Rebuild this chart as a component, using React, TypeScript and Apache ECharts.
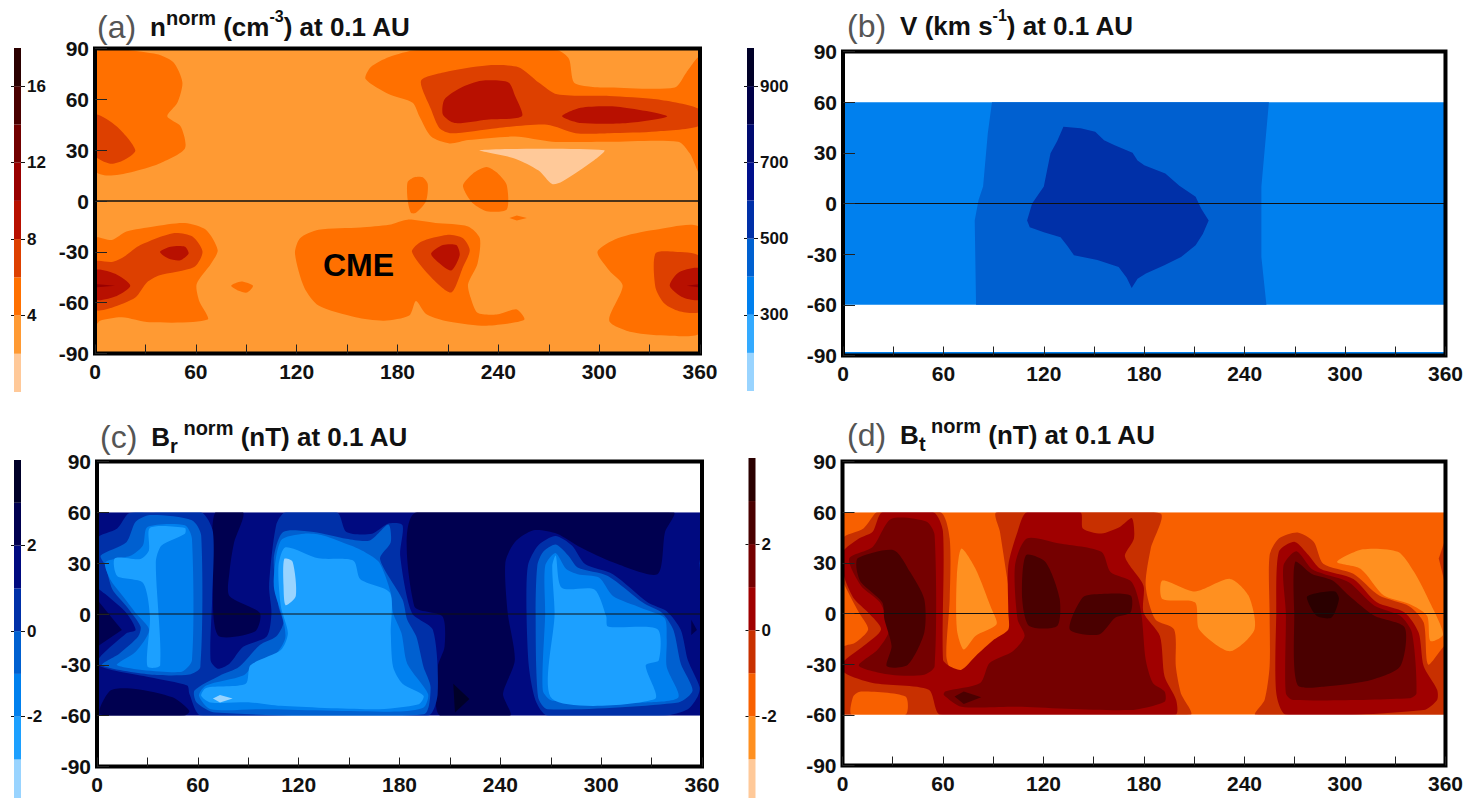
import React, { useEffect, useRef } from "react";
import * as echarts from "echarts";

type Pt = [number, number];
type Layer = [number, Pt[]];

const fontFamily = '"Liberation Sans", Arial, sans-serif';

const lonTicks = [0, 60, 120, 180, 240, 300, 360];

const warmNine = ["#ffc999", "#ff9a33", "#ff7000", "#dd4000", "#b81000", "#990000", "#720000", "#4a0000", "#2a0000"];
const blueNine = ["#99d4ff", "#33aaff", "#0080ee", "#0060d0", "#0030a8", "#00108c", "#000a70", "#000048", "#000028"];
const blueEight = ["#99d4ff", "#1ca0ff", "#0080ee", "#0060d0", "#0030a8", "#000a80", "#000050", "#000028"];
const warmEight = ["#ffc999", "#ff9020", "#f86000", "#c83000", "#a00000", "#750000", "#4a0000", "#2a0000"];

const boundsA = [0, 2, 4, 6, 8, 10, 12, 14, 16, 18];
const boundsB = [100, 200, 300, 400, 500, 600, 700, 800, 900, 1000];
const boundsC = [-3.9, -3, -2, -1, 0, 1, 2, 3, 4];
const boundsD = [-3.9, -3, -2, -1, 0, 1, 2, 3, 4];

const ticksA = [4, 8, 12, 16];
const ticksB = [300, 500, 700, 900];
const ticksC = [-2, 0, 2];
const ticksD = [-2, 0, 2];

const fullRect: Pt[] = [[0, -90], [360, -90], [360, 90], [0, 90]];
const bandRect: Pt[] = [[0, -60], [360, -60], [360, 60], [0, 60]];
const capTop: Pt[] = [[0, 60], [360, 60], [360, 90], [0, 90]];
const capBottom: Pt[] = [[0, -90], [360, -90], [360, -60], [0, -60]];
const bottomSliver: Pt[] = [[0, -90], [360, -90], [360, -88], [0, -88]];

/* Panel (a): density contours, longitude / latitude */
const nTopLeft4: Pt[] = [[0, 87], [35, 87], [46.5, 82], [52, 70], [49, 58], [43, 50], [51, 44], [53.5, 31], [38, 22], [21.5, 17], [7.5, 15], [0, 18]];
const nTopLeft6: Pt[] = [[0, 51], [13, 44], [24, 30], [17, 24], [9, 22], [0, 27]];
const nTopMid4: Pt[] = [[161, 72], [164, 79], [175, 85], [191, 89], [275, 89], [282, 84], [285, 70], [295, 67.5], [306, 67], [345, 67], [352, 76], [360, 85], [360, 16], [354, 28], [347, 35], [306, 35], [272, 35], [250, 38], [222, 36], [211, 34], [200, 38], [193, 50], [189, 58], [175, 63]];
const nTopMid6: Pt[] = [[194, 71], [208, 76], [233, 80], [252, 79], [264, 70], [275, 63], [306, 62], [334, 60], [360, 54], [360, 44.5], [334, 41], [306, 40], [286, 40], [269, 45], [239, 43], [212, 40], [205, 43], [200, 54]];
const nTopBlob8a: Pt[] = [[207, 51], [208, 60], [218, 67], [230, 71], [246, 70], [250, 62], [254, 50], [233, 48], [214, 46]];
const nTopBlob8b: Pt[] = [[278, 50], [289, 55], [311, 55.6], [340.5, 50], [317, 46], [289, 46]];
const nVoid: Pt[] = [[229, 30], [303, 30], [297, 24], [278, 11.5], [272, 10], [264, 18], [250, 25]];
const nIsle1: Pt[] = [[186, 11], [190, 14], [195, 14], [198, 10], [197, 0], [191, -7], [188, -7], [186, 1]];
const nIsle2: Pt[] = [[219, 9.5], [224.6, 16], [233, 20], [240, 16], [245, 9.5], [245, -5], [233, -6], [225, -1.5], [220.7, 4.5]];
const nIsle3: Pt[] = [[246.6, -10], [251, -8.5], [257, -10], [251, -11.5]];
const nIsle4: Pt[] = [[81, -50], [87, -47.5], [94, -50], [90.5, -54], [85.5, -53]];
const nLowLeft4: Pt[] = [[0, -22], [10, -23], [18.7, -18], [35, -15], [53.5, -13], [66, -17], [73, -29], [69, -37], [60.5, -49], [62, -59], [67, -70], [32.6, -71.6], [16, -68.6], [3, -70.6], [0, -73.6]];
const nLowLeft6: Pt[] = [[0, -36], [10, -36], [17, -33], [27, -26], [46.5, -19], [58, -21], [64, -30], [59, -39], [38, -44], [31, -48], [24, -57], [10, -63], [0, -64]];
const nLowLeft8: Pt[] = [[0, -41], [12, -43], [21, -50], [13, -56], [0, -58]];
const nLowLeft10: Pt[] = [[0, -49], [12, -50], [0, -51]];
const nLowLeftB8: Pt[] = [[38.7, -30], [45, -27], [53.5, -27], [55.7, -31], [50.7, -35], [43.7, -34]];
const nCme4: Pt[] = [[119, -31], [122, -22], [133, -17], [158, -15.6], [175, -14], [186, -11], [202.6, -13], [222, -15], [229, -22], [227.6, -37], [222, -49], [223.5, -57], [227.6, -66], [239, -67], [251, -64], [255.5, -70], [244, -72.6], [230, -73.6], [208, -70.6], [197, -66.7], [191, -59], [187, -67.6], [172, -70.6], [155, -68.6], [133, -61.7], [124.5, -51]];
const nCme6: Pt[] = [[188.6, -30], [194, -24], [209.5, -20], [219, -22], [223, -29], [219, -39], [212, -54], [200, -45]];
const nCme8: Pt[] = [[200, -31], [207, -26], [215, -26], [217, -32], [212, -41], [204, -36]];
const nLowRight4: Pt[] = [[299, -30], [311, -22], [333.5, -17], [360, -16], [360, -77.5], [342, -79.5], [320, -77.5], [306, -70.6], [314, -50], [306, -41]];
const nLowRight6: Pt[] = [[333.5, -31], [345, -30], [360, -33], [360, -65], [347.5, -65], [339, -60.7], [333.5, -51]];
const nLowRight8: Pt[] = [[342, -50], [347.5, -42], [360, -40], [360, -58], [350, -57]];
const nLowRight10: Pt[] = [[352, -50], [360, -49], [360, -51]];

const layersA: Layer[] = [
  [1, fullRect],
  [2, nTopLeft4], [3, nTopLeft6],
  [2, nTopMid4], [3, nTopMid6], [4, nTopBlob8a], [4, nTopBlob8b],
  [0, nVoid], [2, nIsle1], [2, nIsle2], [2, nIsle3], [2, nIsle4],
  [2, nLowLeft4], [3, nLowLeft6], [4, nLowLeft8], [5, nLowLeft10], [4, nLowLeftB8],
  [2, nCme4], [3, nCme6], [4, nCme8],
  [2, nLowRight4], [3, nLowRight6], [4, nLowRight8], [5, nLowRight10],
];

/* Panel (b): speed contours */
const vShell: Pt[] = [[89, 60], [254.5, 60], [250, 10], [250, -31.7], [253, -60], [79.5, -60], [78.7, -10], [81, 2], [83.7, 10], [86.5, 41.5]];
const vCore: Pt[] = [[131.7, 45.5], [142, 44.5], [150.7, 42.5], [156, 37.5], [162, 34.6], [173, 30], [176, 25.5], [180, 22.7], [192.6, 17.8], [201, 10.5], [210.7, 4], [214, -3], [218.5, -10], [215, -18], [210.7, -24.7], [202, -31.7], [192, -36.5], [181, -41.5], [176, -44.5], [172.5, -50], [169.5, -44], [164.7, -37.6], [152, -33.5], [138, -30.7], [134, -25], [130, -20], [120, -17], [111.6, -14], [110, -10], [113, 0], [120, 10], [122, 20], [124, 29.7], [128, 37]];

const layersB: Layer[] = [
  [-1, fullRect], [2, bandRect], [3, vShell], [4, vCore], [2, bottomSliver],
];

/* Panel (c): Br contours */
const brDarkMain: Pt[] = [[190, 60], [343, 60], [338, 48.4], [333.5, 23.5], [307, 30.5], [287.6, 39.4], [273.7, 47.4], [259.7, 49.4], [248.6, 42.4], [243, 30.5], [244.4, 0.6], [248.6, -27.3], [241.6, -47.2], [245.8, -60], [204, -60], [202.7, -31.3], [206.8, -19.3], [205.5, -1.4], [188.8, 4.6]];
const brDarkStrip: Pt[] = [[87, 60], [81.6, 42.4], [78.8, 24.5], [78.8, 10.6], [96.9, 0.6], [94, -10.4], [71.8, -12.4], [69, 28.5], [70.4, 60]];
const brDarkWedge: Pt[] = [[0, 8.6], [14.8, -9.4], [0, -19.3]];
const brDarkFoot: Pt[] = [[2, -59.2], [8, -45.2], [23, -44.2], [45, -49.2], [55, -57.2], [52, -60]];
const brDarkEdge: Pt[] = [[353.6, -3.4], [357, -9.4], [353.6, -12.4]];
const brBlackTip: Pt[] = [[212, -41.2], [221.6, -50.2], [213, -58.2]];
const brWest1: Pt[] = [[0, 44.4], [12, 50.4], [19, 59.4], [31.5, 60], [62, 60], [69, 48.4], [68.5, 8.6], [67.6, -27.3], [71.8, -32.3], [78.8, -29.3], [87, -19.3], [101, -13.3], [103.8, 0.6], [102.4, 16.5], [106.6, 52.4], [112, 60], [142.8, 60], [148.4, 48.4], [163.7, 47.4], [173.4, 53.4], [181.8, 52.4], [180.4, 34.5], [187.4, 0.6], [199.9, -9.4], [202.7, -47.2], [197, -60], [62, -60], [55, -47.2], [53.7, -42.2], [31.5, -37.3], [0, -29.3], [17.5, -11.4], [23, -9.4], [17.5, 0.6], [6.4, 10.6], [0, 16.5]];
const brLeft2: Pt[] = [[2.2, 34.5], [17.5, 42.4], [23, 54.4], [31.5, 58.4], [56.5, 55.4], [62, 46.4], [61.5, -31.3], [55, -35.7], [31.5, -35.7], [3, -30.3], [13.4, -23.3], [24.5, -13.3], [25.9, -7.4], [17.5, 4.6], [9.2, 14.5], [5, 28.5]];
const brLeft3: Pt[] = [[5, 30.5], [20.3, 34.5], [27.3, 40.4], [30, 51.4], [52.3, 52.4], [56.5, 44.4], [56.5, -27.3], [49.6, -34.3], [12, -30.3], [23, -22.3], [31, -9.4], [23, 0.6], [15.3, 10.6], [7.8, 20.5]];
const brLeft4: Pt[] = [[10.6, 32.9], [25.9, 32.5], [30.9, 37.5], [31.5, 50.8], [52.3, 50.8], [52.3, 47.4], [38.4, 40.4], [35, 30.5], [37.6, -30.3], [30, -30.9], [31.5, -1.4], [27.3, 18.5], [12, 22.5]];
const brMid2: Pt[] = [[58, -45.2], [73.2, -36.3], [84.4, -31.3], [96.9, -18.3], [106.6, -13.3], [110.8, -5.4], [108, 4.6], [105.2, 32.5], [110.8, 48.4], [128.9, 48.4], [148.4, 44.4], [162.3, 43.4], [173.4, 52.8], [174.8, 42.4], [168.4, 32.5], [181.8, 8.6], [184.6, -3.4], [190, -13.3], [194.3, -31.3], [198.5, -43.2], [194.3, -59.2], [70.4, -58.2], [59.3, -52.2]];
const brMid3: Pt[] = [[60.7, -48.2], [64.9, -42.2], [87, -36.3], [94, -29.3], [106.6, -23.3], [112, -14.3], [110.8, -3.4], [105.2, 16.5], [109.4, 43.4], [123.3, 47.4], [134.5, 46.4], [151, 40.4], [159.5, 36.5], [167.9, 30.5], [174.8, 12.5], [176.2, 0.6], [181.2, -11.4], [184.6, -29.3], [197, -47.2], [194.3, -55.2], [179, -57.6], [98.3, -56.2], [67.6, -56.2]];
const brMid4: Pt[] = [[62, -48.2], [64.9, -43.6], [88.5, -41.2], [91.3, -30.3], [109.4, -21.3], [113.6, -11.4], [109.4, 4.6], [108, 28.5], [112.2, 39.4], [131.7, 32.9], [152.6, 31.5], [156.7, 20.5], [174.3, 12.5], [174.8, -11.4], [176.2, -31.3], [181.8, -41.2], [194.3, -48.2], [191.5, -53.2], [165, -56.2], [109.4, -54.2], [91.3, -52.2], [67.6, -52.2]];
const brSpot1: Pt[] = [[111.4, 32.5], [116.4, 30.9], [118.3, 10.6], [112.2, 5.2], [111, 16.5]];
const brSpot2: Pt[] = [[69, -49.8], [73.2, -47.8], [80.7, -49.8], [73.2, -52.2]];
const brEast1: Pt[] = [[256.4, 28.5], [262.5, 40.4], [272.8, 46], [282.6, 40.4], [290.4, 29.5], [307, 23.5], [328, 6.6], [339, 1.6], [347.4, -9.4], [351.6, -27.3], [358.6, -43.2], [357.2, -49.2], [351.6, -56.2], [337.7, -60], [268, -60], [261, -51.2], [257, -31.3], [255.6, 0.6]];
const brEast2: Pt[] = [[262, 28.5], [265.3, 36.5], [273, 41], [280.4, 34.5], [286, 27.5], [304, 22.5], [325, 6.6], [336.3, 0.6], [343, -9.4], [347.4, -29.3], [354.4, -45.2], [346, -52.2], [268, -56.2], [262.5, -49.2], [261, 0.6]];
const brEast3: Pt[] = [[266.7, 0.6], [266.7, 28.5], [272.8, 36], [279.2, 26.5], [286, 23.5], [298.7, 21.5], [307, 10.6], [323.8, 3.6], [337.7, -2.4], [339, -15.3], [339, -31.3], [346, -49.2], [326.5, -52.2], [271, -51.2], [265.3, -45.2]];
const brEast4: Pt[] = [[272.3, 0.6], [270.9, 28.5], [273, 34.5], [276.5, 15.5], [296, 14.5], [303, -1.4], [304, -7.4], [333.5, -9], [334.3, -27.3], [326.5, -30.3], [332, -50.2], [271, -50.2]];
const brRim: Pt[] = [[358.5, 30], [360, 40], [360, 12]];

const layersC: Layer[] = [
  [-1, fullRect], [5, bandRect],
  [6, brDarkMain], [6, brDarkStrip], [6, brDarkWedge], [6, brDarkFoot], [6, brDarkEdge], [7, brBlackTip],
  [4, brWest1], [3, brLeft2], [2, brLeft3], [1, brLeft4],
  [3, brMid2], [2, brMid3], [1, brMid4], [0, brSpot1], [0, brSpot2],
  [4, brEast1], [3, brEast2], [2, brEast3], [1, brEast4], [4, brRim],
  [-1, capTop], [-1, capBottom],
];

/* Panel (d): Bt contours */
const btWest5: Pt[] = [[0, 44.4], [12.5, 50.4], [19.5, 59.4], [21, 60], [58.5, 60], [64, 44.4], [64, 8.6], [62, -25.3], [65.5, -35.3], [71, -37.6], [79.4, -33.3], [85, -25.3], [99, -17.3], [105, -9.4], [101.7, 0.6], [94, 48.4], [92, 60], [189.5, 59.4], [184, 38.4], [181, 16.5], [186.7, -3.4], [198, -9.4], [199, -31.3], [202, -47.2], [207.6, -60], [0, -60], [0, -20.3], [7.5, -17.3], [15.3, -9.4], [9.8, 0.6], [1.4, 16.5], [0, 20.5]];
const btFootPatch: Pt[] = [[5.6, -60], [6.4, -49.2], [11, -46.2], [37.6, -49.2], [37.6, -60]];
const btEast5: Pt[] = [[246.6, -60], [252, -51.2], [255, -31.3], [255, 0.6], [255, 34.5], [260.5, 44.4], [271.7, 48], [281.4, 42.4], [287, 29.5], [305, 23.5], [320.4, 10.6], [338.5, 4.2], [347, -5.4], [349.7, -30.3], [360, -19.3], [360, -60]];
const btRim: Pt[] = [[356, 32.5], [360, 44.4], [360, 16.5]];
const btWest4: Pt[] = [[0, 36.5], [9.8, 44.4], [18, 48.4], [23.7, 60], [54.3, 60], [60, 48.4], [60, -27.3], [64, -31.3], [71, -33.3], [79.4, -25.3], [90.6, -15.3], [99, -9.4], [99, 0.6], [99, 28.5], [104.5, 48.4], [110, 60], [142, 60], [143.5, 50.4], [154.6, 47.4], [165.8, 51.4], [172.8, 56.4], [174, 44.4], [168.6, 34.5], [171.4, 28.5], [179.7, 16.5], [179.7, 0.6], [189.5, -13.3], [192.3, -37.3], [199.2, -51.2], [198.7, -60], [58.5, -60], [51.5, -45.2], [18, -41.2], [1.4, -35.3], [0, -29.3], [12.5, -19.3], [23, -9.4], [15.3, 0.6], [7, 8.6], [1.4, 20.5], [0, 28.5]];
const btEast4: Pt[] = [[259, 0.6], [260.5, 36.5], [270, 42.4], [278.3, 34.5], [285.3, 26.5], [305, 20.5], [319, 6.6], [335.6, 0.6], [344, -11.4], [347, -31.3], [355, -45.2], [355, -51.2], [347, -57.2], [265, -60], [259, -47.2]];
const btLeft3: Pt[] = [[4, 32.5], [18, 39.4], [29, 56], [50, 54.4], [55, 46.4], [55, -31.3], [48.8, -36.3], [29, -36.3], [9.8, -30.9], [21, -21.3], [28, -9.4], [22.3, 6.6], [11, 16.5]];
const btLeft2: Pt[] = [[9.2, 32.9], [30.6, 37.5], [40.4, 24.5], [48.8, 8.6], [48.8, -11.4], [39, -30.3], [26.5, -31.3], [29.3, -19.3], [25, -3.4], [23.7, 6.6], [11, 18.5], [8.4, 26.5]];
const btMid3: Pt[] = [[61.3, -46.2], [82.2, -41.2], [87.8, -29.3], [101.7, -22.3], [108.7, -13.3], [104.5, -3.4], [103, 28.5], [110, 44.4], [129.6, 41.4], [154.6, 36.5], [160, 24.5], [172.8, 18.5], [178.3, 0.6], [181, -27.3], [185.3, -41.2], [192.3, -46.2], [192.3, -52.2], [171.4, -57.2], [101.7, -55.2], [71, -55.2], [60.5, -48.2]];
const btMid2a: Pt[] = [[109.5, 34.5], [121.2, 30.5], [129.6, 9], [128.2, -7.4], [111.5, -7.4], [107.3, 8.6]];
const btMid2b: Pt[] = [[143.5, 9.6], [154.6, 11.6], [172, 10.6], [172, 0.6], [163, -2.4], [153.2, -12.4], [135.7, -9.4]];
const btMid2c: Pt[] = [[66.9, -49.2], [72.4, -46.2], [82.8, -49.6], [72.4, -53.6]];
const btEast3: Pt[] = [[264.7, 0.6], [263.3, 28.5], [271, 36.9], [280, 26.5], [287, 23.5], [302.3, 18.5], [317.6, 4.6], [333, -1.4], [340, -11.4], [342.7, -47.2], [338.5, -50.2], [269, -51.2], [264.7, -47.2]];
const btEast2: Pt[] = [[269.7, 0.6], [270.3, 30.5], [280, 23.5], [292.6, 19.5], [302.3, 10.6], [317.6, -1.4], [335.7, -8.4], [333, -31.3], [316.2, -39.2], [288.3, -43.2], [271.6, -42.2]];
const btEast1: Pt[] = [[277.2, 9.6], [282.8, 12], [294, 13], [296.4, 8.6], [292, -2.4], [283, -1.4]];
const btWeak1: Pt[] = [[71, 38.4], [79.4, 26.5], [89, 2.6], [92, -6.4], [79.4, -13.3], [72.4, -21.3], [68.3, -9.4], [68.3, 22.5]];
const btWeak2: Pt[] = [[191, 19.5], [210.4, 13], [231.3, 20.5], [242.4, 10.6], [246, -9.4], [231.3, -22.3], [213, -9.4], [210.4, 6.6], [191, 8.6]];
const btWeak3: Pt[] = [[295.3, 30.5], [310.7, 38], [331.6, 36.5], [341.3, 24.5], [349.7, 8.6], [358.6, -12.4], [351, -16.3], [349, -1.4], [338.5, 5.6], [323.2, 10.6], [309.3, 26.5]];

const layersD: Layer[] = [
  [-1, fullRect], [2, bandRect],
  [3, btWest5], [3, btEast5], [3, btRim],
  [4, btWest4], [4, btEast4], [2, btFootPatch],
  [5, btLeft3], [6, btLeft2], [5, btMid3], [6, btMid2a], [6, btMid2b], [6, btMid2c],
  [5, btEast3], [6, btEast2], [7, btEast1],
  [1, btWeak1], [1, btWeak2], [1, btWeak3],
  [-1, capTop], [-1, capBottom],
];

const titleA = "{t|(a)}{b|n}{s|norm}{b| (cm}{u|-3}{b|) at 0.1 AU}";
const titleB = "{t|(b)}{b|V (km s}{u|-1}{b|) at 0.1 AU}";
const titleC = "{t|(c)}{b|B}{d|r}{s| norm}{b| (nT) at 0.1 AU}";
const titleD = "{t|(d)}{b|B}{d|t}{s| norm}{b| (nT) at 0.1 AU}";

const panels = [
  { title: titleA, tx: 97, ty: 8, grid: [95, 48.5, 605, 305], bar: [14, 48, 7, 344], layers: layersA, palette: warmNine, bounds: boundsA, ticks: ticksA, smooth: 0.25, eq: 1.6 },
  { title: titleB, tx: 847, ty: 7, grid: [843, 51.5, 605, 304], bar: [747, 48, 7, 343], layers: layersB, palette: blueNine, bounds: boundsB, ticks: ticksB, smooth: 0, eq: 1 },
  { title: titleC, tx: 100, ty: 418, grid: [97, 461.5, 605, 305], bar: [14, 460, 7, 338], layers: layersC, palette: blueEight, bounds: boundsC, ticks: ticksC, smooth: 0.25, eq: 1 },
  { title: titleD, tx: 847, ty: 416, grid: [842.5, 461.5, 604, 304], bar: [748.5, 458, 7, 340], layers: layersD, palette: warmEight, bounds: boundsD, ticks: ticksD, smooth: 0.25, eq: 1 },
];

function buildOption() {
  const grid: any[] = [];
  const xAxis: any[] = [];
  const yAxis: any[] = [];
  const series: any[] = [];
  const title: any[] = [];

  panels.forEach((p, i) => {
    const gx = i * 2;
    const bx = i * 2 + 1;
    const yMain = i * 3;
    const yBarLeft = i * 3 + 1;
    const yBarRight = i * 3 + 2;
    const [gl, gt, gw, gh] = p.grid;
    const [bl, bt, bw, bh] = p.bar;
    grid[gx] = { left: gl, top: gt, width: gw, height: gh };
    grid[bx] = { left: bl, top: bt, width: bw, height: bh };

    title.push({
      text: p.title,
      left: p.tx,
      top: p.ty,
      padding: 0,
      textStyle: {
        rich: {
          t: { fontFamily, fontSize: 32, fontWeight: "normal", color: "#555", lineHeight: 38, padding: [0, 14, 0, 0] },
          b: { fontFamily, fontSize: 26, fontWeight: "bold", color: "#111", lineHeight: 38 },
          s: { fontFamily, fontSize: 20, fontWeight: "bold", color: "#111", lineHeight: 30, verticalAlign: "top" },
          u: { fontFamily, fontSize: 16, fontWeight: "bold", color: "#111", lineHeight: 28, verticalAlign: "top" },
          d: { fontFamily, fontSize: 20, fontWeight: "bold", color: "#111", lineHeight: 16, verticalAlign: "bottom" },
        },
      },
    });

    xAxis[gx] = {
      type: "value", gridIndex: gx, min: 0, max: 360, interval: 30, z: 10,
      axisLine: { show: false, onZero: false },
      axisTick: { show: true, inside: true, length: 9, lineStyle: { color: "#222", width: 1 } },
      splitLine: { show: false },
      axisLabel: {
        margin: 7, color: "#111", fontFamily, fontSize: 21, fontWeight: "bold",
        formatter: (v: number) => (lonTicks.includes(v) ? String(v) : ""),
      },
    };
    xAxis[bx] = { type: "value", gridIndex: bx, min: 0, max: 1, show: false };

    yAxis[yMain] = {
      type: "value", gridIndex: gx, min: -90, max: 90, interval: 30, z: 10,
      axisLine: { show: false, onZero: false },
      axisTick: { show: true, inside: true, length: 12, lineStyle: { color: "#222", width: 1 } },
      splitLine: { show: false },
      axisLabel: { margin: 6, color: "#111", fontFamily, fontSize: 21, fontWeight: "bold" },
    };
    const barMin = p.bounds[0];
    const barMax = p.bounds[p.bounds.length - 1];
    yAxis[yBarLeft] = {
      type: "value", gridIndex: bx, position: "left", min: barMin, max: barMax, z: 10,
      axisLine: { show: false, onZero: false }, splitLine: { show: false },
      axisTick: { show: true, length: 3, customValues: p.ticks, lineStyle: { color: "#111", width: 1 } },
      axisLabel: { show: false },
    };
    yAxis[yBarRight] = {
      type: "value", gridIndex: bx, position: "right", min: barMin, max: barMax, z: 10,
      axisLine: { show: false, onZero: false }, splitLine: { show: false },
      axisTick: { show: true, length: 4, customValues: p.ticks, lineStyle: { color: "#111", width: 1 } },
      axisLabel: { margin: 6, customValues: p.ticks, color: "#111", fontFamily, fontSize: 17, fontWeight: "bold" },
    };

    series.push({
      type: "custom", xAxisIndex: gx, yAxisIndex: yMain, z: 2, clip: true, silent: true,
      data: p.layers.map((l, k) => [l[1][0][0], l[1][0][1], k]),
      encode: { x: 0, y: 1 },
      renderItem: (params: any, api: any) => {
        const [level, pts] = p.layers[params.dataIndex];
        const points = pts.map((q) => api.coord(q));
        return {
          type: "polygon",
          shape: { points, smooth: pts.length > 4 ? p.smooth : 0 },
          style: { fill: level < 0 ? "#ffffff" : p.palette[level], stroke: null },
        };
      },
    });

    series.push({
      type: "custom", xAxisIndex: gx, yAxisIndex: yMain, z: 5, clip: false, silent: true,
      data: [[0, 0]],
      encode: { x: 0, y: 1 },
      renderItem: (_: any, api: any) => {
        const a = api.coord([0, 90]);
        const b = api.coord([360, -90]);
        const e0 = api.coord([0, 0]);
        const e1 = api.coord([360, 0]);
        return {
          type: "group",
          children: [
            { type: "line", shape: { x1: e0[0], y1: e0[1], x2: e1[0], y2: e1[1] }, style: { stroke: "#111", lineWidth: p.eq } },
            { type: "rect", shape: { x: a[0], y: a[1], width: b[0] - a[0], height: b[1] - a[1] }, style: { fill: "none", stroke: "#000", lineWidth: 4 } },
          ],
        };
      },
    });

    series.push({
      type: "custom", xAxisIndex: bx, yAxisIndex: yBarRight, z: 2, clip: false, silent: true,
      data: p.palette.map((_, k) => [0, p.bounds[k], 1, p.bounds[k + 1]]),
      encode: { x: [0, 2], y: [1, 3] },
      renderItem: (params: any, api: any) => {
        const a = api.coord([api.value(0), api.value(3)]);
        const b = api.coord([api.value(2), api.value(1)]);
        return {
          type: "rect",
          shape: { x: a[0], y: a[1], width: b[0] - a[0], height: b[1] - a[1] },
          style: { fill: p.palette[params.dataIndex] },
        };
      },
    });
  });

  return {
    animation: false,
    backgroundColor: "#ffffff",
    title,
    grid,
    xAxis,
    yAxis,
    series,
    graphic: [
      {
        type: "text", x: 323, y: 249, z: 100,
        style: { text: "CME", fill: "#000", font: `bold 32px ${fontFamily}` },
      },
    ],
  };
}

export default function App() {
  const ref = useRef<HTMLDivElement>(null);
  useEffect(() => {
    document.body.style.margin = "0";
    document.body.style.background = "#fff";
    const chart = echarts.init(ref.current!, undefined, { renderer: "svg" });
    chart.setOption(buildOption() as any);
    return () => chart.dispose();
  }, []);
  return <div ref={ref} style={{ width: 1466, height: 799 }} />;
}
